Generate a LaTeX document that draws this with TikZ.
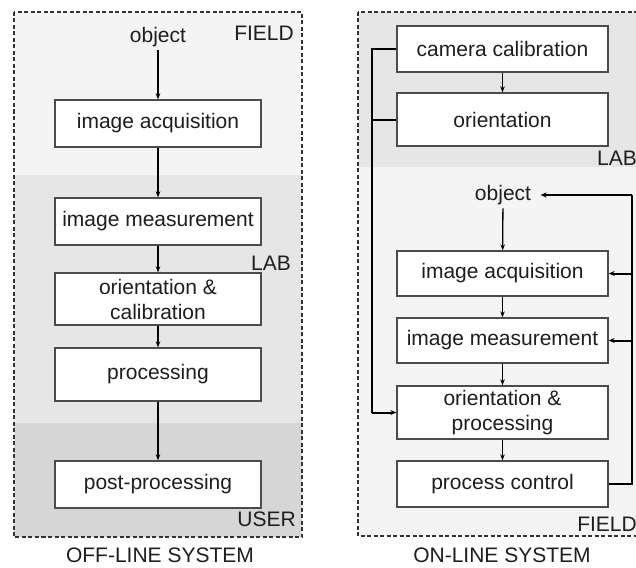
\documentclass[tikz,border=0pt]{standalone}
\usepackage{fontspec}
\setmainfont{Liberation Sans}
\usetikzlibrary{arrows.meta}
\definecolor{bandlight}{HTML}{F4F4F4}
\definecolor{bandmid}{HTML}{E6E6E6}
\definecolor{banddark}{HTML}{D6D6D6}
\definecolor{ink}{HTML}{1E1E1E}
\tikzset{
  every node/.style={font=\fontsize{21}{25}\selectfont, text=ink},
  stepbox/.style={draw=black!70, line width=1.3pt, fill=white, minimum height=47pt, align=center, inner sep=0pt},
  leftbox/.style={stepbox, minimum width=206pt},
  rightbox/.style={stepbox, minimum width=211pt},
  frame/.style={draw=black!80, line width=1.8pt, dash pattern=on 4pt off 2.5pt},
  flow/.style={draw=black, line width=1.3pt, -{Stealth[length=6pt,width=4.5pt]}},
  loopline/.style={draw=black, line width=2pt},
  looparrow/.style={loopline, -{Stealth[length=6pt,width=5pt]}},
  zone/.style={inner sep=0pt, anchor=east},
  caption/.style={font=\fontsize{21}{24}\selectfont}
}
\begin{document}
\begin{tikzpicture}[x=1pt, y=-1pt]
\useasboundingbox (0,0) rectangle (636,567);
\fill[white] (0,0) rectangle (636,567);

% ---- off-line system: zones ----
\fill[bandlight] (14,12) rectangle (302,175);
\fill[bandmid] (14,175) rectangle (302,423);
\fill[banddark] (14,423) rectangle (302,537);
\draw[frame] (14,12) rectangle (302,537);
\node[zone] (fieldA) at (294,33) {FIELD};
\node[zone] (labA) at (291,263) {LAB};
\node[zone] (userA) at (296,519) {USER};

% ---- off-line system: steps ----
\node (objA) at (158,37) {object};
\node[leftbox] (acqA) at (158,123.5) {image acquisition};
\node[leftbox] (measA) at (158,221.5) {image measurement};
\node[leftbox, minimum height=52pt] (ocA) at (158,299) {orientation \&\\calibration};
\node[leftbox, minimum height=53pt] (procA) at (158,374.5) {processing};
\node[leftbox] (postA) at (158,484.5) {post-processing};
\draw[flow] (objA) -- (acqA);
\draw[flow] (acqA) -- (measA);
\draw[flow] (measA) -- (ocA);
\draw[flow] (ocA) -- (procA);
\draw[flow] (procA) -- (postA);
\node[caption] (capA) at (160,555) {OFF-LINE SYSTEM};

% ---- on-line system: zones ----
\fill[bandmid] (358,12) rectangle (650,167);
\fill[bandlight] (358,167) rectangle (650,536);
\draw[frame] (358,12) rectangle (650,536);
\node[zone] (labB) at (637,158) {LAB};
\node[zone] (fieldB) at (637,524) {FIELD};

% ---- on-line system: steps ----
\node[rightbox, minimum height=46pt] (camB) at (502.5,49) {camera calibration};
\node[rightbox, minimum height=53pt] (oriB) at (502.5,119.5) {orientation};
\node (objB) at (503,195) {object};
\node[rightbox, minimum height=45pt] (acqB) at (502.5,273.5) {image acquisition};
\node[rightbox, minimum height=45pt] (measB) at (502.5,340.5) {image measurement};
\node[rightbox, minimum height=53pt] (opB) at (502.5,412.5) {orientation \&\\processing};
\node[rightbox, minimum height=46pt] (pcB) at (502.5,484) {process control};
\draw[flow] (camB) -- (oriB);
\draw[flow] (objB) -- (acqB);
\draw[flow] (acqB) -- (measB);
\draw[flow] (measB) -- (opB);
\draw[flow] (opB) -- (pcB);

% calibration and orientation feed the processing step
\coordinate (feedTop) at (372,49);
\coordinate (feedBot) at (372,412.5);
\draw[loopline] (camB.west) -- (feedTop) -- (feedBot);
\draw[loopline] (oriB.west) -- (oriB.west -| feedTop);
\draw[looparrow] (feedBot) -- (opB.west);

% process control loops back to the field
\coordinate (ctlTurn) at (632,484);
\coordinate (ctlTop) at (632,195);
\draw[loopline] (pcB.east) -- (ctlTurn) -- (ctlTop);
\draw[looparrow] (ctlTop) -- ([xshift=6pt]objB.east);
\draw[looparrow] (acqB.east -| ctlTop) -- (acqB.east);
\draw[looparrow] (measB.east -| ctlTop) -- (measB.east);
\node[caption] (capB) at (502,555) {ON-LINE SYSTEM};
\end{tikzpicture}
\end{document}
